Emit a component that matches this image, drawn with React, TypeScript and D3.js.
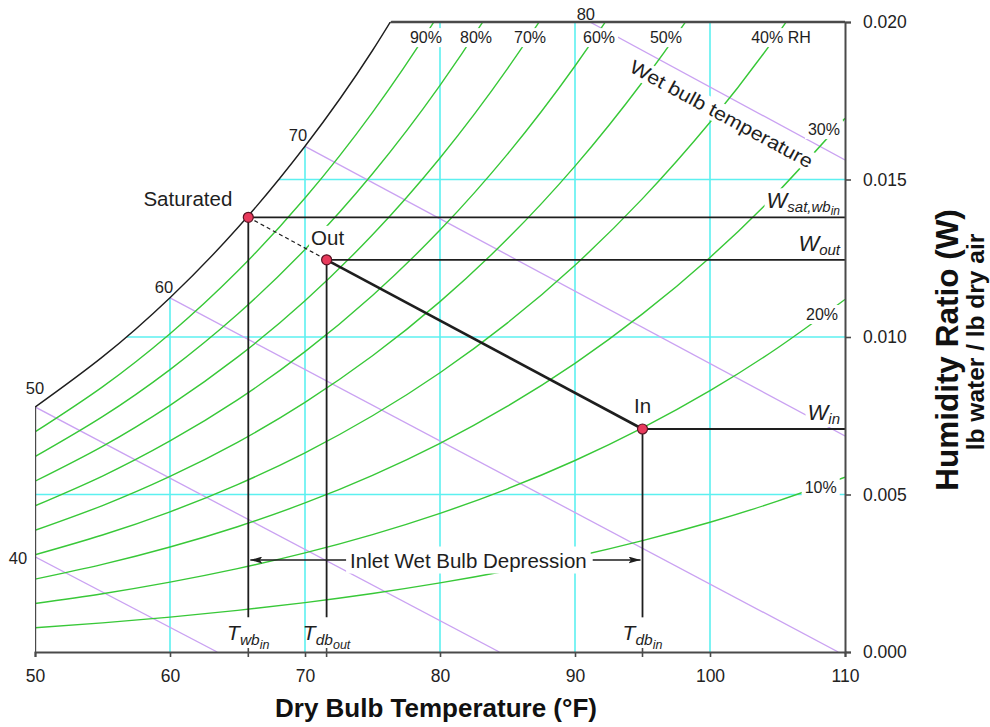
import React, { useEffect, useRef } from "react";
import * as d3 from "d3";

// saturation pressure of water vapour (psia) at the dry bulb table temperatures (°F)
const tableTemps = [50, 55, 60, 65, 70, 75, 80, 85, 90, 95, 100, 105, 110];
const satPressure = [0.1781, 0.2141, 0.2563, 0.3056, 0.3631, 0.4298, 0.507, 0.596, 0.6984, 0.8159, 0.9496, 1.1025, 1.2754];
const barometric = 14.43; // psia

const rhLevels = [0.9, 0.8, 0.7, 0.6, 0.5, 0.4, 0.3, 0.2, 0.1];
const rhLabels = ["90%", "80%", "70%", "60%", "50%", "40% RH", "30%", "20%", "10%"];
const rhLabelTdb = [78.96, 82.67, 86.67, 91.78, 96.74, 105.26, 108.44, 108.3, 108.2];
const rhLabelW = [0.01933, 0.01933, 0.01933, 0.01933, 0.01933, 0.01933, 0.01641, 0.01054, 0.00505];

// wet bulb lines, start / end as [Tdb, W]
const wetBulbTemps = [40, 50, 60, 70, 80];
const wetBulbStart = [[50, 0.00302], [50, 0.00778], [60, 0.01124], [70, 0.01605], [91.1, 0.02]];
const wetBulbEnd = [[63.5, 0], [84.4, 0], [109.5, 0], [110, 0.00686], [110, 0.01562]];

const gridTemps = [60, 70, 80, 90, 100];
const gridW = [0.005, 0.01, 0.015];
const xTicks = [50, 60, 70, 80, 90, 100, 110];
const yTicks = [0, 0.005, 0.01, 0.015, 0.02];

// process states
const stateNames = ["Saturated", "Out", "In"];
const stateTdb = [65.8, 71.6, 95.0];
const stateW = [0.0138, 0.01245, 0.00708];
const stateW_labels = [["W", "sat,wb", "in"], ["W", "out"], ["W", "in"]];
const stateT_labels = [["T", "wb", "in"], ["T", "db", "out"], ["T", "db", "in"]];
const dropW = 0.0011;
const arrowW = 0.00292;

const font = "'Liberation Sans', Arial, sans-serif";
const green = "#38c838";
const cyan = "#5cf0f0";
const purple = "#caa2f2";
const ink = "#1e1e1e";
const axisColor = "#4a4a4a";

export default function App() {
  const ref = useRef<SVGSVGElement>(null);

  useEffect(() => {
    document.body.style.margin = "0";
    const svg = d3.select(ref.current);
    svg.selectAll("*").remove();

    const x = d3.scaleLinear().domain([50, 110]).range([35, 845]);
    const y = d3.scaleLinear().domain([0, 0.02]).range([652, 22]);
    const humidity = (p: number) => (0.622 * p) / (barometric - p);
    const line = d3
      .line<number[]>()
      .x((d) => x(d[0]))
      .y((d) => y(d[1]))
      .curve(d3.curveNatural);

    const satPts = tableTemps.filter((t) => t <= 80).map((t, i) => [t, humidity(satPressure[i])]);
    const last = satPts[satPts.length - 1];

    const defs = svg.append("defs");
    defs
      .append("clipPath")
      .attr("id", "plot")
      .append("rect")
      .attr("x", x(50))
      .attr("y", y(0.02))
      .attr("width", x(110) - x(50))
      .attr("height", y(0) - y(0.02));
    defs
      .append("clipPath")
      .attr("id", "sat")
      .append("path")
      .attr("d", line(satPts) + `L${x(110)},${y(last[1])}L${x(110)},${y(0)}L${x(50)},${y(0)}Z`);
    defs
      .append("marker")
      .attr("id", "arrow")
      .attr("markerUnits", "userSpaceOnUse")
      .attr("viewBox", "0 0 12 7")
      .attr("refX", 12)
      .attr("refY", 3.5)
      .attr("markerWidth", 12)
      .attr("markerHeight", 7)
      .attr("orient", "auto-start-reverse")
      .append("path")
      .attr("d", "M0,0L12,3.5L0,7L2.5,3.5Z")
      .attr("fill", ink);

    const plot = svg.append("g").attr("clip-path", "url(#plot)");
    const inner = plot.append("g").attr("clip-path", "url(#sat)");

    // cyan grid
    inner
      .selectAll(".gx")
      .data(gridTemps)
      .join("line")
      .attr("x1", (d) => x(d))
      .attr("x2", (d) => x(d))
      .attr("y1", y(0))
      .attr("y2", y(0.02))
      .attr("stroke", cyan)
      .attr("stroke-width", 1.6);
    inner
      .selectAll(".gy")
      .data(gridW)
      .join("line")
      .attr("x1", x(50))
      .attr("x2", x(110))
      .attr("y1", (d) => y(d))
      .attr("y2", (d) => y(d))
      .attr("stroke", cyan)
      .attr("stroke-width", 1.6);

    // wet bulb lines
    inner
      .selectAll(".wb")
      .data(wetBulbTemps)
      .join("line")
      .attr("x1", (d, i) => x(wetBulbStart[i][0]))
      .attr("y1", (d, i) => y(wetBulbStart[i][1]))
      .attr("x2", (d, i) => x(wetBulbEnd[i][0]))
      .attr("y2", (d, i) => y(wetBulbEnd[i][1]))
      .attr("stroke", purple)
      .attr("stroke-width", 1.3);

    // relative humidity curves
    inner
      .selectAll(".rh")
      .data(rhLevels)
      .join("path")
      .attr("d", (rh) => line(tableTemps.map((t, i) => [t, humidity(rh * satPressure[i])])))
      .attr("fill", "none")
      .attr("stroke", green)
      .attr("stroke-width", 1.4);

    // chart boundary: saturation curve, top and left edges
    plot.append("path").attr("d", line(satPts)).attr("fill", "none").attr("stroke", ink).attr("stroke-width", 1.4);
    const edges = svg.append("g").attr("clip-path", "url(#sat)");
    edges
      .append("line")
      .attr("x1", x(50))
      .attr("x2", x(110))
      .attr("y1", y(0.02))
      .attr("y2", y(0.02))
      .attr("stroke", axisColor)
      .attr("stroke-width", 2.4);
    edges
      .append("line")
      .attr("x1", x(50))
      .attr("x2", x(50))
      .attr("y1", y(0))
      .attr("y2", y(0.02))
      .attr("stroke", axisColor)
      .attr("stroke-width", 2.4);

    // labels with white backing
    const labels = svg.append("g").attr("font-family", font).attr("fill", ink);
    const backed = (t: d3.Selection<SVGTextElement, unknown, null, undefined>, pad = 2) => {
      const b = (t.node() as SVGTextElement).getBBox();
      d3.select(t.node()!.parentNode as SVGGElement)
        .insert("rect", () => t.node())
        .attr("x", b.x - pad)
        .attr("y", b.y - pad + 2)
        .attr("width", b.width + 2 * pad)
        .attr("height", b.height + 2 * pad - 4)
        .attr("fill", "#fff");
      return t;
    };

    rhLabels.forEach((s, i) => {
      const g = labels.append("g");
      const t = g
        .append("text")
        .attr("x", x(rhLabelTdb[i]))
        .attr("y", y(rhLabelW[i]))
        .attr("text-anchor", "middle")
        .attr("font-size", 16)
        .text(s);
      backed(t, 3);
    });

    const wbOffset = [[-17, 7], [0, -13], [-6, -5], [-7, -5], [-4, -2]];
    wetBulbTemps.forEach((v, i) => {
      labels
        .append("text")
        .attr("x", x(wetBulbStart[i][0]) + wbOffset[i][0])
        .attr("y", y(wetBulbStart[i][1]) + wbOffset[i][1])
        .attr("text-anchor", "middle")
        .attr("font-size", 16.5)
        .text(v);
    });

    // "Wet bulb temperature" along the 80 line
    const a = [x(wetBulbStart[4][0]), y(wetBulbStart[4][1])];
    const b = [x(wetBulbEnd[4][0]), y(wetBulbEnd[4][1])];
    const ang = (Math.atan2(b[1] - a[1], b[0] - a[0]) * 180) / Math.PI;
    const along = 0.55;
    const wg = labels
      .append("g")
      .attr("transform", `translate(${a[0] + (b[0] - a[0]) * along},${a[1] + (b[1] - a[1]) * along}) rotate(${ang})`);
    const wt = wg
      .append("text")
      .attr("x", 0)
      .attr("y", 25)
      .attr("text-anchor", "middle")
      .attr("font-size", 19)
      .attr("textLength", 205)
      .attr("lengthAdjust", "spacingAndGlyphs")
      .text("Wet bulb temperature");
    backed(wt, 2);

    // W labels at right edge
    stateW_labels.forEach((parts, i) => {
      const g = labels.append("g");
      const t = g
        .append("text")
        .attr("x", 840)
        .attr("y", y(stateW[i]) - 9)
        .attr("text-anchor", "end")
        .attr("font-style", "italic");
      t.append("tspan").attr("font-size", 22).text(parts[0]);
      t.append("tspan").attr("font-size", 15).attr("dy", 4).text(parts[1]);
      if (parts[2]) t.append("tspan").attr("font-size", 12).attr("dy", 3).text(parts[2]);
      backed(t, 2);
    });

    // state names
    const nameOffset = [[-16, -11, "end"], [1, -15, "middle"], [0, -16, "middle"]];
    stateNames.forEach((s, i) => {
      const g = labels.append("g");
      const t = g
        .append("text")
        .attr("x", x(stateTdb[i]) + (nameOffset[i][0] as number))
        .attr("y", y(stateW[i]) + (nameOffset[i][1] as number))
        .attr("text-anchor", nameOffset[i][2] as string)
        .attr("font-size", 20.5)
        .text(s);
      backed(t, 2);
    });

    // T labels under the drop lines
    stateT_labels.forEach((parts, i) => {
      const t = labels
        .append("text")
        .attr("x", x(stateTdb[i]))
        .attr("y", 640)
        .attr("text-anchor", "middle")
        .attr("font-style", "italic");
      t.append("tspan").attr("font-size", 21).text(parts[0]);
      t.append("tspan").attr("font-size", 15.5).attr("dy", 5).text(parts[1]);
      t.append("tspan").attr("font-size", 12.5).attr("dy", 4).text(parts[2]);
    });

    // inlet wet bulb depression
    const dg = labels.append("g");
    const dt = dg
      .append("text")
      .attr("x", (x(stateTdb[0]) + x(stateTdb[2])) / 2 + 23)
      .attr("y", y(arrowW) + 7.5)
      .attr("text-anchor", "middle")
      .attr("font-size", 20.5)
      .text("Inlet Wet Bulb Depression");
    backed(dt, 4);
    const db = (dt.node() as SVGTextElement).getBBox();
    const proc = svg.append("g").attr("stroke", ink).attr("fill", "none");
    proc
      .append("line")
      .attr("x1", db.x - 4)
      .attr("x2", x(stateTdb[0]) + 2)
      .attr("y1", y(arrowW))
      .attr("y2", y(arrowW))
      .attr("stroke-width", 1.5)
      .attr("marker-end", "url(#arrow)");
    proc
      .append("line")
      .attr("x1", db.x + db.width + 6)
      .attr("x2", x(stateTdb[2]) - 2)
      .attr("y1", y(arrowW))
      .attr("y2", y(arrowW))
      .attr("stroke-width", 1.5)
      .attr("marker-end", "url(#arrow)");

    // process lines
    stateTdb.forEach((t, i) => {
      proc
        .append("line")
        .attr("x1", x(t))
        .attr("x2", x(110))
        .attr("y1", y(stateW[i]))
        .attr("y2", y(stateW[i]))
        .attr("stroke-width", 1.8);
      proc
        .append("line")
        .attr("x1", x(t))
        .attr("x2", x(t))
        .attr("y1", y(stateW[i]))
        .attr("y2", y(dropW))
        .attr("stroke-width", 1.8);
    });
    proc
      .append("line")
      .attr("x1", x(stateTdb[0]))
      .attr("y1", y(stateW[0]))
      .attr("x2", x(stateTdb[1]))
      .attr("y2", y(stateW[1]))
      .attr("stroke-width", 1.2)
      .attr("stroke-dasharray", "4,3");
    proc
      .append("line")
      .attr("x1", x(stateTdb[1]))
      .attr("y1", y(stateW[1]))
      .attr("x2", x(stateTdb[2]))
      .attr("y2", y(stateW[2]))
      .attr("stroke-width", 2.6);

    // axes
    const xAxis = svg
      .append("g")
      .attr("transform", `translate(0,${y(0)})`)
      .call(d3.axisBottom(x).tickValues(xTicks).tickSize(5).tickPadding(13).tickFormat(d3.format("d")));
    const yAxis = svg
      .append("g")
      .attr("transform", `translate(${x(110)},0)`)
      .call(d3.axisRight(y).tickValues(yTicks).tickSize(6).tickPadding(12).tickFormat(d3.format(".3f")));
    [xAxis, yAxis].forEach((ax) => {
      ax.attr("font-family", font).attr("font-size", 17.5);
      ax.select(".domain").attr("stroke", axisColor).attr("stroke-width", 2);
      ax.selectAll(".tick line").attr("stroke", axisColor).attr("stroke-width", 1.6);
      ax.selectAll(".tick text").attr("fill", "#222");
    });
    // state ticks on the temperature axis
    svg
      .append("g")
      .selectAll("line")
      .data(stateTdb)
      .join("line")
      .attr("x1", (d) => x(d))
      .attr("x2", (d) => x(d))
      .attr("y1", y(0) - 4)
      .attr("y2", y(0) + 5)
      .attr("stroke", axisColor)
      .attr("stroke-width", 1.6);

    // state points
    svg
      .append("g")
      .selectAll("circle")
      .data(stateTdb)
      .join("circle")
      .attr("cx", (d) => x(d))
      .attr("cy", (d, i) => y(stateW[i]))
      .attr("r", 5)
      .attr("fill", "#e83a5c")
      .attr("stroke", "#5a1424")
      .attr("stroke-width", 1.2);

    // axis titles
    svg
      .append("text")
      .attr("x", 436)
      .attr("y", 717)
      .attr("text-anchor", "middle")
      .attr("font-family", font)
      .attr("font-weight", "bold")
      .attr("font-size", 26)
      .attr("fill", "#111")
      .text("Dry Bulb Temperature (°F)");
    svg
      .append("text")
      .attr("transform", "translate(958,350) rotate(-90)")
      .attr("text-anchor", "middle")
      .attr("font-family", font)
      .attr("font-weight", "bold")
      .attr("font-size", 31.5)
      .attr("fill", "#111")
      .text("Humidity Ratio (W)");
    svg
      .append("text")
      .attr("transform", "translate(984,342) rotate(-90)")
      .attr("text-anchor", "middle")
      .attr("font-family", font)
      .attr("font-weight", "bold")
      .attr("font-size", 24.5)
      .attr("fill", "#111")
      .text("lb water / lb dry air");
  }, []);

  return <svg ref={ref} width={990} height={727} style={{ display: "block", background: "#fff" }} />;
}
